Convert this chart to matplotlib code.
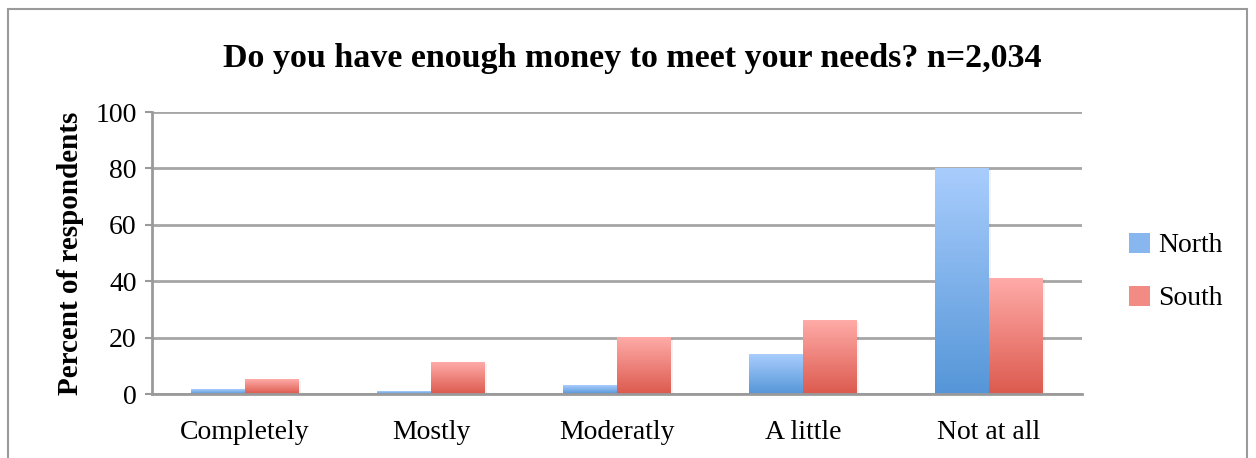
import matplotlib

matplotlib.use("Agg")
import matplotlib.pyplot as plt
import numpy as np
from matplotlib.colors import LinearSegmentedColormap
from matplotlib.patches import Rectangle

categories = ["Completely", "Mostly", "Moderatly", "A little", "Not at all"]
north = [1.5, 1, 3, 14, 80]
south = [5, 11, 20, 26, 41]
series_names = ["North", "South"]
y_ticks = [0, 20, 40, 60, 80, 100]

north_cmap = LinearSegmentedColormap.from_list("north", ["#5596d8", "#a9cdfd"])
south_cmap = LinearSegmentedColormap.from_list("south", ["#dc5a4e", "#ffaba8"])

plt.rcParams["font.family"] = ["Liberation Serif", "DejaVu Serif"]

fig = plt.figure(figsize=(12.56, 4.58), dpi=100)
ax = fig.add_axes([152 / 1256, 1 - 394 / 458, (1082 - 152) / 1256, (394 - 112) / 458])

# chart area border
fig.patches.append(
    Rectangle((8 / 1256, -0.1), (1247 - 8) / 1256, 1.1 - 9 / 458,
              transform=fig.transFigure, fill=False, edgecolor="#9a9a9a", linewidth=1.5)
)

x = np.arange(len(categories))
bar_w = 0.29
gradient = np.linspace(0, 1, 256).reshape(-1, 1)


def gradient_bars(xs, values, cmap):
    for xc, val in zip(xs, values):
        left = xc - bar_w / 2
        # soft shadow
        ax.add_patch(Rectangle((left + 0.01, 0), bar_w, val - 0.3, facecolor="#000000",
                               alpha=0.05, edgecolor="none", zorder=2))
        ax.imshow(gradient, extent=(left, left + bar_w, 0, val), origin="lower",
                  cmap=cmap, aspect="auto", zorder=3)


gradient_bars(x - bar_w / 2, north, north_cmap)
gradient_bars(x + bar_w / 2, south, south_cmap)

ax.set_xlim(-0.5, len(categories) - 0.5)
ax.set_ylim(0, 100)
ax.set_yticks(y_ticks)
ax.set_xticks(x)
ax.set_xticklabels(categories)
ax.tick_params(axis="x", length=0, labelsize=20, pad=19)
ax.tick_params(axis="y", length=5, width=1.5, color="#9a9a9a", labelsize=20, pad=6)
ax.grid(axis="y", color="#a6a6a6", linewidth=2)
ax.set_axisbelow(True)
for side in ["top", "right"]:
    ax.spines[side].set_visible(False)
for side in ["left", "bottom"]:
    ax.spines[side].set_color("#9a9a9a")
    ax.spines[side].set_linewidth(2)
    ax.spines[side].set_zorder(4)

ax.set_ylabel("Percent of respondents", fontsize=21, fontweight="bold", labelpad=8)
fig.text(632 / 1256, 1 - 58 / 458, "Do you have enough money to meet your needs? n=2,034",
         ha="center", va="center", fontsize=24.5, fontweight="bold")

# legend
handles = [
    Rectangle((0, 0), 1, 1, facecolor=north_cmap(0.6), edgecolor="none"),
    Rectangle((0, 0), 1, 1, facecolor=south_cmap(0.6), edgecolor="none"),
]
fig.legend(handles, series_names, loc="center left", bbox_to_anchor=(1104 / 1256, 1 - 272 / 458),
           frameon=False, fontsize=20, handlelength=0.75, handleheight=0.75, handletextpad=0.3,
           labelspacing=0.98)

fig.savefig("out.png", dpi=100)
